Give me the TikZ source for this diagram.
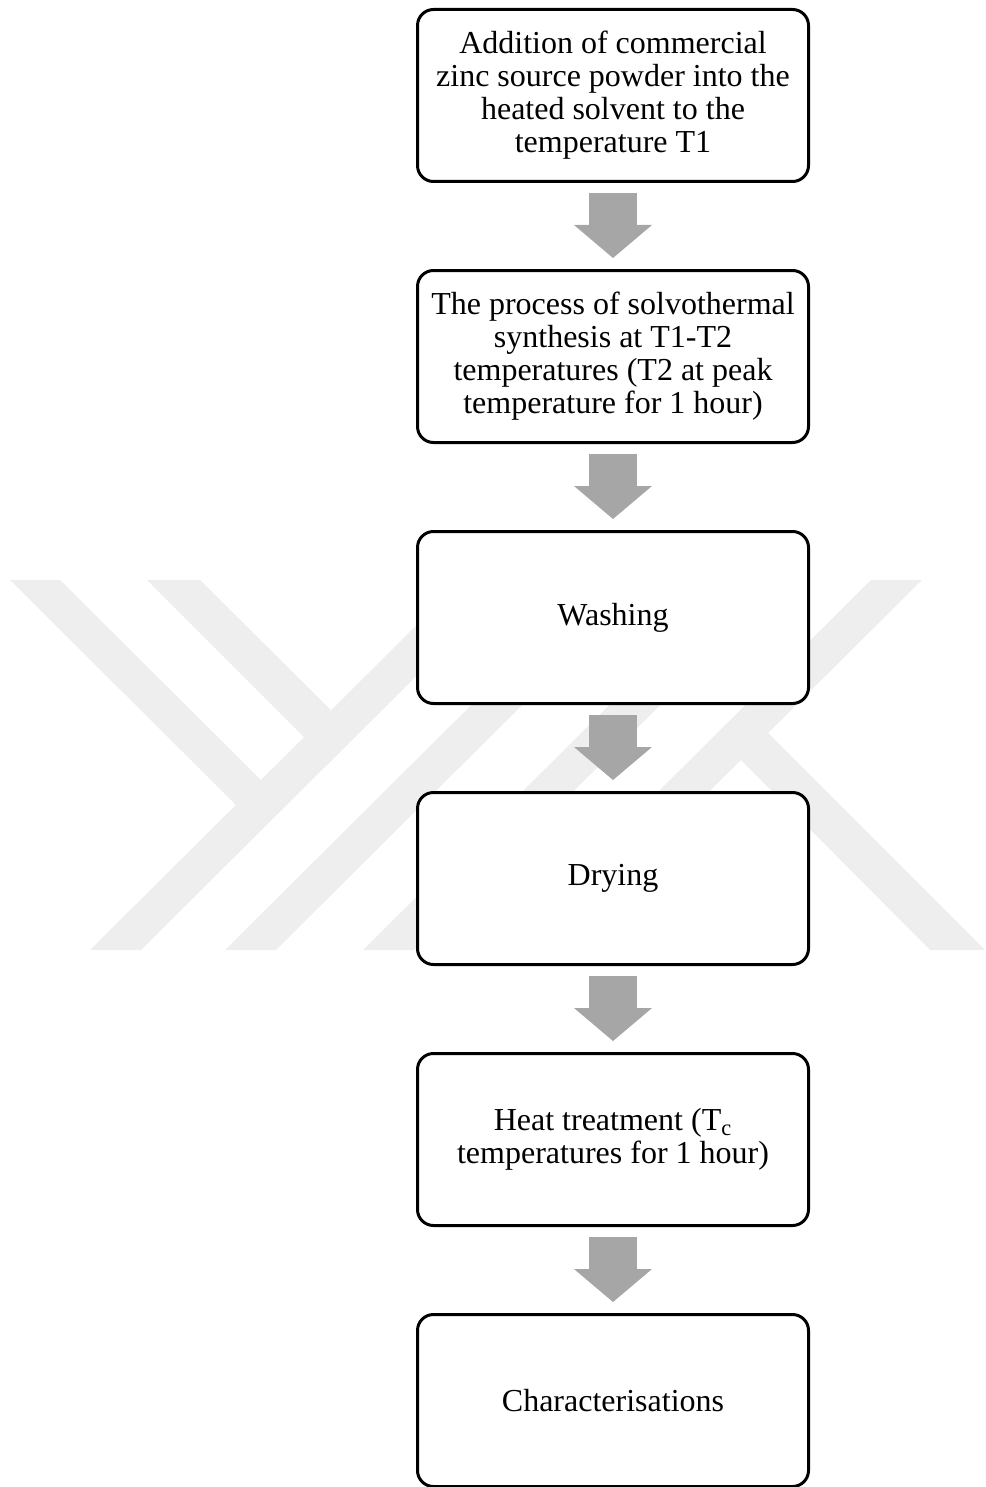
\documentclass[tikz,border=0pt]{standalone}
\usepackage{fontspec}
\setmainfont{Liberation Serif}
\usetikzlibrary{arrows.meta}
\definecolor{markgray}{HTML}{EEEEEE}
\definecolor{flowgray}{HTML}{A6A6A6}
\begin{document}
\begin{tikzpicture}[x=0.5pt,y=-0.5pt,
  stepbox/.style={draw=black, line width=1.5pt, fill=white, rounded corners=8pt,
    minimum width=195.5pt, minimum height=86pt, inner sep=0pt, align=center,
    font=\fontsize{16}{16.5}\selectfont},
  flow/.style={draw=flowgray, line width=24pt,
    -{Triangle[width=39pt,length=16.5pt,line width=0pt]},
    shorten <=5pt, shorten >=5.5pt},
  wmark/.style={fill=markgray, draw=none}]
\useasboundingbox (0,0) rectangle (985,1487);

% faint logo in the background
\fill[wmark] (90,950) -- (141,950) -- (513,580) -- (462,580) -- cycle;
\fill[wmark] (225,950) -- (276,950) -- (648,580) -- (597,580) -- cycle;
\fill[wmark] (363,950) -- (414,950) -- (786,580) -- (735,580) -- cycle;
\fill[wmark] (499,950) -- (550,950) -- (922,580) -- (871,580) -- cycle;
\fill[wmark] (10,580) -- (60,580) -- (261,780) -- (236,805) -- cycle;
\fill[wmark] (147,580) -- (200,580) -- (331,710) -- (304,737) -- cycle;
\fill[wmark] (768,733) -- (985,950) -- (930,950) -- (741,760) -- cycle;

% process steps
\node[stepbox] (s1) at (613,95.5) {Addition of commercial\\zinc source powder into the\\heated solvent to the\\temperature T1};
\node[stepbox] (s2) at (613,356.5) {The process of solvothermal\\synthesis at T1-T2\\temperatures (T2 at peak\\temperature for 1 hour)};
\node[stepbox] (s3) at (613,617.5) {Washing};
\node[stepbox] (s4) at (613,878.5) {Drying};
\node[stepbox] (s5) at (613,1139.5) {Heat treatment (T\textsubscript{c}\\temperatures for 1 hour)};
\node[stepbox] (s6) at (613,1400.5) {Characterisations};

% block arrows between the steps
\draw[flow] (s1.south) -- (s2.north);
\draw[flow] (s2.south) -- (s3.north);
\draw[flow] (s3.south) -- (s4.north);
\draw[flow] (s4.south) -- (s5.north);
\draw[flow] (s5.south) -- (s6.north);
\end{tikzpicture}
\end{document}
